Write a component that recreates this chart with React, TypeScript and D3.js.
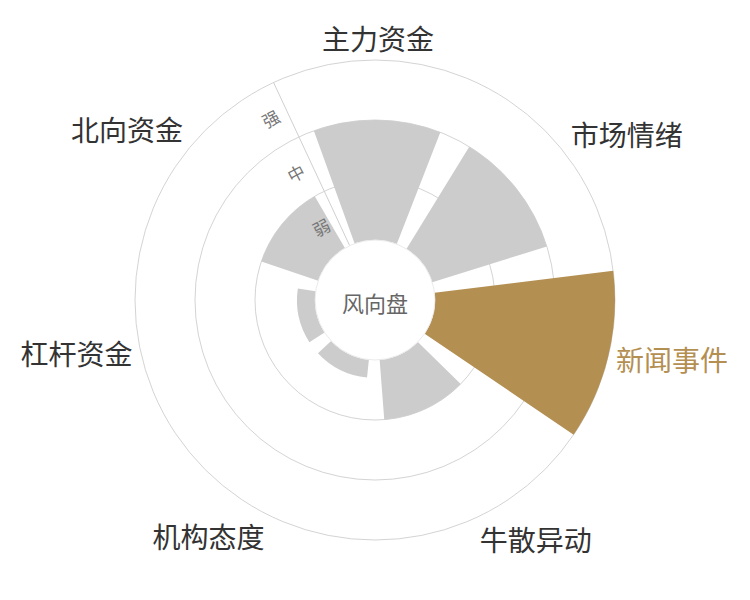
import React from 'react';
import * as d3 from 'd3';

const categories = ['主力资金', '市场情绪', '新闻事件', '牛散异动', '机构态度', '杠杆资金', '北向资金'];
const values = [2, 2, 3, 1, 0.3, 0.3, 1];
const levels = ['弱', '中', '强'];
const highlight = '新闻事件';

const width = 750;
const height = 600;
const cx = 375;
const cy = 300;
const innerR = 60;
const outerR = 240;
const startAngle = (-25 * Math.PI) / 180;

const font = '"Noto Sans CJK SC", "Noto Sans", sans-serif';
const gray = '#cccccc';
const gold = '#b48f52';

export default function App() {
  const angle = d3
    .scaleBand<string>()
    .domain(categories)
    .range([startAngle, startAngle + 2 * Math.PI])
    .paddingInner(0.2)
    .paddingOuter(0.1);
  const step = angle.step();

  const radius = d3.scaleLinear().domain([0, levels.length]).range([innerR, outerR]);

  const arc = d3.arc<any>();

  // radius axis runs along the start angle
  const ux = Math.sin(startAngle);
  const uy = -Math.cos(startAngle);
  const nx = -Math.cos(startAngle);
  const ny = -Math.sin(startAngle);
  const rot = (startAngle * 180) / Math.PI;

  return (
    <svg width={width} height={height} style={{ position: 'absolute', left: 0, top: 0, background: '#fff' }}>
      <g transform={`translate(${cx},${cy})`}>
        {/* grid circles */}
        {d3.range(1, levels.length + 1).map(i => (
          <circle key={i} r={radius(i)} fill="none" stroke="#d4d4d4" strokeWidth={1} />
        ))}

        {/* axis line */}
        <line
          x1={ux * radius(0)}
          y1={uy * radius(0)}
          x2={ux * radius(levels.length)}
          y2={uy * radius(levels.length)}
          stroke="#d0d0d0"
          strokeWidth={1}
        />

        {/* bars */}
        {categories.map((c, i) => (
          <path
            key={c}
            d={arc({
              innerRadius: radius(0),
              outerRadius: radius(values[i]),
              startAngle: angle(c)!,
              endAngle: angle(c)! + angle.bandwidth(),
            })!}
            fill={c === highlight ? gold : gray}
          />
        ))}

        {/* center disc */}
        <circle r={innerR} fill="#fff" stroke="#e4e4e4" strokeWidth={0.8} />
        <text
          x={0}
          y={2}
          textAnchor="middle"
          dominantBaseline="central"
          fontFamily={font}
          fontSize={22}
          fill="#666"
        >
          风向盘
        </text>

        {/* level labels */}
        {levels.map((l, i) => {
          const r = radius(i + 0.5) - 1;
          const x = ux * r + nx * 18;
          const y = uy * r + ny * 18;
          return (
            <text
              key={l}
              x={x}
              y={y}
              transform={`rotate(${rot - 3},${x},${y})`}
              textAnchor="middle"
              dominantBaseline="central"
              fontFamily={font}
              fontSize={17}
              fill="#777"
            >
              {l}
            </text>
          );
        })}

        {/* category labels */}
        {categories.map((c, i) => {
          const a = startAngle + step * (i + 0.5);
          const s = Math.sin(a);
          const co = Math.cos(a);
          const r = outerR + 8;
          const x = s * r;
          const y = -co * r;
          const anchor = s > 0.05 ? 'start' : s < -0.05 ? 'end' : 'middle';
          const dy = co > 0.3 ? -2 : co < -0.3 ? 26 : 12.5;
          return (
            <text
              key={c}
              x={x}
              y={y + dy}
              textAnchor={anchor}
              fontFamily={font}
              fontSize={28}
              fill={c === highlight ? gold : '#333'}
            >
              {c}
            </text>
          );
        })}
      </g>
    </svg>
  );
}
